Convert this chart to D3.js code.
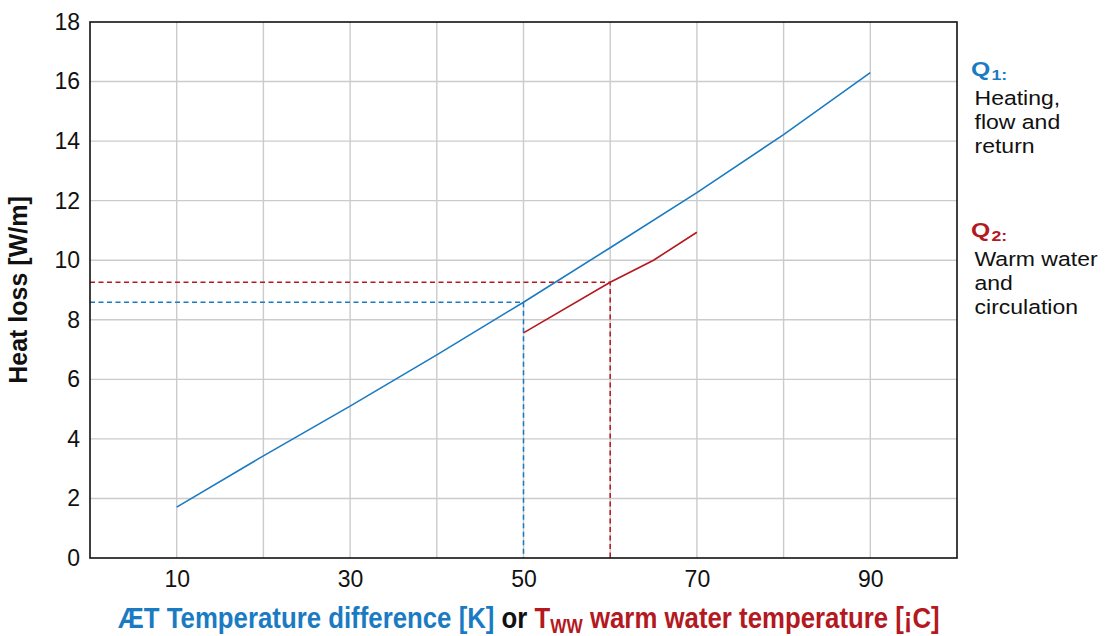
<!DOCTYPE html>
<html><head><meta charset="utf-8">
<script src="https://cdn.jsdelivr.net/npm/d3@7"></script>
<style>body{margin:0;background:#fff}svg{display:block}text{font-family:Arial,"Liberation Sans",sans-serif}</style>
</head><body>
<svg id="c" width="1108" height="636"></svg>
<script>
// Data
const q1X = [10, 20, 30, 40, 50, 60, 70, 80, 90];
const q1Y = [1.71, 3.43, 5.10, 6.82, 8.59, 10.42, 12.27, 14.22, 16.30];
const q2X = [50, 60, 65, 70];
const q2Y = [7.56, 9.26, 10.0, 10.94];
const refBlue = {x: 50, y: 8.59};
const refRed = {x: 60, y: 9.26};
const xTicks = [10, 30, 50, 70, 90];
const yTicks = [0, 2, 4, 6, 8, 10, 12, 14, 16, 18];
const xGrid = [10, 20, 30, 40, 50, 60, 70, 80, 90];

const BLUE = "#1a7bc3", RED = "#b3191f";
const svg = d3.select("#c");
const m = {l: 90, t: 22, r: 151, b: 78};
const W = 1108 - m.l - m.r, H = 636 - m.t - m.b;
const x = d3.scaleLinear().domain([0, 100]).range([m.l, m.l + W]);
const y = d3.scaleLinear().domain([0, 18]).range([m.t + H, m.t]);

// grid
svg.append("g").selectAll("line").data(xGrid).join("line")
  .attr("x1", d => x(d)).attr("x2", d => x(d)).attr("y1", y(0)).attr("y2", y(18))
  .attr("stroke", "#cbcbcb").attr("stroke-width", 1.4);
svg.append("g").selectAll("line").data(yTicks.slice(1, -1)).join("line")
  .attr("x1", x(0)).attr("x2", x(100)).attr("y1", d => y(d)).attr("y2", d => y(d))
  .attr("stroke", "#cbcbcb").attr("stroke-width", 1.4);

// axes (labels only)
const yAx = svg.append("g").attr("transform", `translate(${x(0)},0)`)
  .call(d3.axisLeft(y).tickValues(yTicks).tickSize(0).tickPadding(10));
yAx.select(".domain").remove();
yAx.selectAll("text").attr("font-size", 23).attr("fill", "#111").attr("font-family", "Arial, 'Liberation Sans', sans-serif");
const xAx = svg.append("g").attr("transform", `translate(0,${y(0)})`)
  .call(d3.axisBottom(x).tickValues(xTicks).tickSize(0).tickPadding(13));
xAx.select(".domain").remove();
xAx.selectAll("text").attr("font-size", 23).attr("fill", "#111").attr("font-family", "Arial, 'Liberation Sans', sans-serif");

// dashed reference lines
const dash = "5,3.5";
function refLines(p, col) {
  svg.append("path").attr("d", `M${x(0)},${y(p.y)}H${x(p.x)}V${y(0)}`)
    .attr("fill", "none").attr("stroke", col).attr("stroke-width", 1.5).attr("stroke-dasharray", dash);
}
refLines(refRed, RED);
refLines(refBlue, BLUE);

// lines
const line = d3.line().x(d => x(d[0])).y(d => y(d[1]));
svg.append("path").datum(q1X.map((d, i) => [d, q1Y[i]])).attr("d", line)
  .attr("fill", "none").attr("stroke", BLUE).attr("stroke-width", 1.6);
svg.append("path").datum(q2X.map((d, i) => [d, q2Y[i]])).attr("d", line)
  .attr("fill", "none").attr("stroke", RED).attr("stroke-width", 1.6);

// frame
svg.append("rect").attr("x", x(0)).attr("y", y(18)).attr("width", W).attr("height", H)
  .attr("fill", "none").attr("stroke", "#111").attr("stroke-width", 1.6);

// y label
svg.append("text").attr("transform", `translate(27,290) rotate(-90)`)
  .attr("text-anchor", "middle").attr("font-size", 25).attr("font-weight", "bold").attr("fill", "#111")
  .text("Heat loss [W/m]");

// x label (condensed look via horizontal scale)
const xg = svg.append("g");
const xl = xg.append("text").attr("x", 0).attr("y", 0)
  .attr("font-weight", "bold").attr("font-size", 30);
xl.append("tspan").attr("fill", BLUE).text("ÆT Temperature difference [K] ");
xl.append("tspan").attr("fill", "#111").text("or ");
xl.append("tspan").attr("fill", RED).text("T");
xl.append("tspan").attr("fill", RED).attr("font-size", 20).attr("dy", 5).text("WW");
xl.append("tspan").attr("fill", RED).attr("dy", -5).text(" warm water temperature [¡C]");
const len = xl.node().getComputedTextLength();
xg.attr("transform", `translate(118,628) scale(${822 / len},1)`);

// legend
function legend(yTop, col, sub, lines) {
  const g = svg.append("g").attr("transform", `translate(971,0) scale(1.18,1)`);
  const q = g.append("text").attr("x", 0).attr("y", yTop).attr("fill", col).attr("font-weight", "bold");
  q.append("tspan").attr("font-size", 21).text("Q");
  q.append("tspan").attr("font-size", 15).attr("dy", 4).attr("dx", 1).text(sub);
  g.selectAll("text.l").data(lines).join("text").attr("class", "l")
    .attr("x", 3).attr("y", (d, i) => yTop + 29 + i * 24)
    .attr("font-size", 19.5).attr("fill", "#111").text(d => d);
}
legend(76, BLUE, "1:", ["Heating,", "flow and", "return"]);
legend(237, RED, "2:", ["Warm water", "and", "circulation"]);
</script>
</body></html>
